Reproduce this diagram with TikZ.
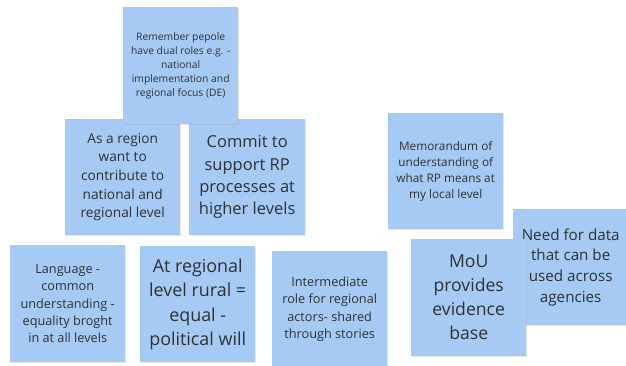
\documentclass[tikz,border=0pt]{standalone}
\usepackage{fontspec}
\setmainfont{Open Sans}
\usetikzlibrary{%
    shadows,%
    positioning,%
    calc%
}
\definecolor{notebg}{HTML}{A6CAF4}
\definecolor{notetext}{HTML}{2E3135}

\begin{document}
\begin{tikzpicture}[x=1pt, y=-1pt,
    note/.style = {rectangle, anchor = north west, fill = notebg, align = center, text = notetext,
        minimum width = 115pt, minimum height = 116pt, inner sep = 2pt,
        drop shadow = {opacity = 0.18, shadow xshift = 0.6pt, shadow yshift = -1.2pt}}]
    \useasboundingbox (0,0) rectangle (626,365);
    % Define top left corners of the notes
    \coordinate (c_region) at (65,119);
    \coordinate (c_commit) at (189,119);
    \coordinate (c_rem) at (123,7);
    \coordinate (c_lang) at (10,245);
    \coordinate (c_rural) at (140,246);
    \coordinate (c_inter) at (272,251);
    \coordinate (c_memo) at (388,113);
    \coordinate (c_data) at (513,209);
    \coordinate (c_mou) at (411,239);

    % Draw the notes
    \node[note, font = \fontsize{13.7}{18.7}\selectfont] (region) at (c_region) {As a region\\want to\\contribute to\\national and\\regional level};
    \node[note, font = \fontsize{16.5}{22.4}\selectfont, minimum width = 116pt] (commit) at (c_commit) {Commit to\\support RP\\processes at\\higher levels};
    \node[note, font = \fontsize{10.3}{14}\selectfont, minimum height = 117pt] (rem) at (c_rem) {Remember pepole\\have dual roles e.g. -\\national\\implementation and\\regional focus (DE)};
    \node[note, font = \fontsize{12.7}{17.3}\selectfont, minimum height = 117pt] (lang) at (c_lang) {Language -\\common\\understanding -\\equality broght\\in at all levels};
    \node[note, font = \fontsize{17.9}{24.3}\selectfont] (rural) at (c_rural) {At regional\\level rural =\\equal -\\political will};
    \node[note, font = \fontsize{12.7}{17.3}\selectfont] (inter) at (c_inter) {Intermediate\\role for regional\\actors- shared\\through stories};
    \node[note, font = \fontsize{11.8}{16}\selectfont] (memo) at (c_memo) {Memorandum of\\understanding of\\what RP means at\\my local level};
    \node[note, font = \fontsize{15.2}{20.7}\selectfont] (data) at (c_data) {Need for data\\that can be\\used across\\agencies};
    \node[note, font = \fontsize{17.6}{24}\selectfont, minimum height = 117pt] (mou) at (c_mou) {MoU\\provides\\evidence\\base};
\end{tikzpicture}
\end{document}
